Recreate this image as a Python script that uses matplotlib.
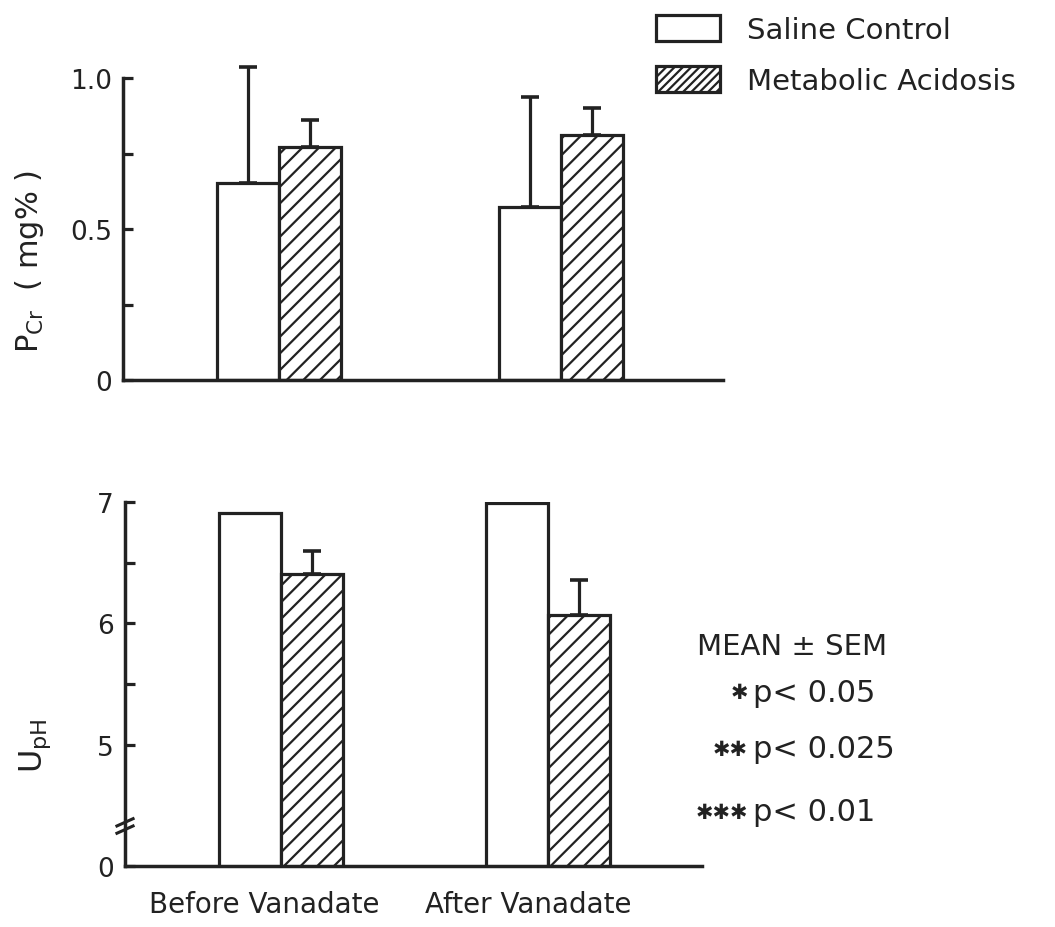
import numpy as np
import matplotlib
matplotlib.use("Agg")
import matplotlib.pyplot as plt
from matplotlib.patches import Patch

INK = "#222222"
plt.rcParams.update({"font.family": "DejaVu Sans", "hatch.linewidth": 1.6,
                     "hatch.color": INK, "text.color": INK})

groups = ["Before Vanadate", "After Vanadate"]
series = ["Saline Control", "Metabolic Acidosis"]

# plasma creatinine, mg%
pcr_saline = [0.652, 0.573]
pcr_saline_sem = [0.384, 0.364]
pcr_acid = [0.771, 0.811]
pcr_acid_sem = [0.090, 0.089]

# urine pH (axis broken below 4)
uph_saline = [6.91, 6.99]
uph_saline_sem = [0.0, 0.0]
uph_acid = [6.41, 6.07]
uph_acid_sem = [0.19, 0.29]

notes = ["MEAN \u00b1 SEM"]
stars = ["\u2731", "\u2731\u2731", "\u2731\u2731\u2731"]
pvals = ["p< 0.05", "p< 0.025", "p< 0.01"]

W, H = 1055, 928
fig = plt.figure(figsize=(W / 100, H / 100), dpi=100)
fig.patch.set_facecolor("white")

ax1 = fig.add_axes([123 / W, 1 - 381 / H, 600 / W, 302 / H])
ax2 = fig.add_axes([125 / W, 1 - 867 / H, 577 / W, 364 / H])


def panel(ax, sal, sal_e, acid, acid_e, w):
    x = np.arange(len(groups))
    ax.bar(x - w / 2, sal, w, color="white", edgecolor=INK, lw=2.3)
    ax.bar(x + w / 2, acid, w, color="white", edgecolor=INK, lw=2.3,
           hatch="//")
    for xs, v, e in [(x - w / 2, sal, sal_e), (x + w / 2, acid, acid_e)]:
        v, e = np.array(v), np.array(e)
        m = e > 0
        eb = ax.errorbar(xs[m], v[m], yerr=[np.zeros(m.sum()), e[m]],
                         fmt="none", ecolor=INK, elinewidth=2.3,
                         capsize=6.5, capthick=2.6)
        for art in eb.lines[1] + eb.lines[2]:
            art.set_clip_on(False)
    for s in ["top", "right"]:
        ax.spines[s].set_visible(False)
    for s in ["left", "bottom"]:
        ax.spines[s].set_linewidth(2.5)
        ax.spines[s].set_color(INK)
    ax.tick_params(axis="y", which="both", direction="in", length=7.5,
                   width=2.3, color=INK, labelsize=19, pad=8,
                   labelcolor=INK)
    ax.set_xticks([])


panel(ax1, pcr_saline, pcr_saline_sem, pcr_acid, pcr_acid_sem, 0.22)
ax1.set_xlim(-0.553, 1.574)
ax1.set_ylim(0, 1.0)
ax1.set_yticks([0, 0.5, 1.0], ["0", "0.5", "1.0"])
ax1.set_yticks([0.25, 0.75], minor=True)

panel(ax2, uph_saline, uph_saline_sem, uph_acid, uph_acid_sem, 0.232)
ax2.set_xlim(-0.584, 1.577)
ax2.set_ylim(4, 7)
ax2.set_yticks([4, 5, 6, 7], ["0", "5", "6", "7"])
ax2.set_yticks([5.5, 6.5], minor=True)

# axis break marks
tr = ax2.get_yaxis_transform()
for d in [4.30, 4.36]:
    ax2.plot([-0.014, 0.014], [d - 0.03, d + 0.03], color=INK, lw=2.2,
             transform=tr, clip_on=False)

fig.text(30 / W, 1 - 261 / H, r"P$_{\mathregular{Cr}}$  ( mg% )",
         rotation=90, ha="center", va="center", fontsize=22)
fig.text(35 / W, 1 - 746 / H, r"U$_{\mathregular{pH}}$",
         rotation=90, ha="center", va="center", fontsize=23)

for lab, xc in zip(groups, [264, 528]):
    fig.text(xc / W, 1 - 905 / H, lab, ha="center", va="center",
             fontsize=20)

fig.text(697 / W, 1 - 647 / H, notes[0], ha="left", va="center",
         fontsize=21)
for st, p, yc in zip(stars, pvals, [693, 750, 813]):
    fig.text(748 / W, 1 - yc / H, st, ha="right", va="center", fontsize=15)
    fig.text(753 / W, 1 - yc / H, p, ha="left", va="center", fontsize=22)

handles = [Patch(facecolor="white", edgecolor=INK, lw=2.3),
           Patch(facecolor="white", edgecolor=INK, lw=2.3, hatch="////")]
fig.legend(handles, series, loc="upper left",
           bbox_to_anchor=(630 / W, 1 + 10 / H), frameon=False, fontsize=21,
           handlelength=2.2, handleheight=1.0, handletextpad=0.9,
           labelspacing=0.75)

fig.savefig("out.png", dpi=100, facecolor="white")
